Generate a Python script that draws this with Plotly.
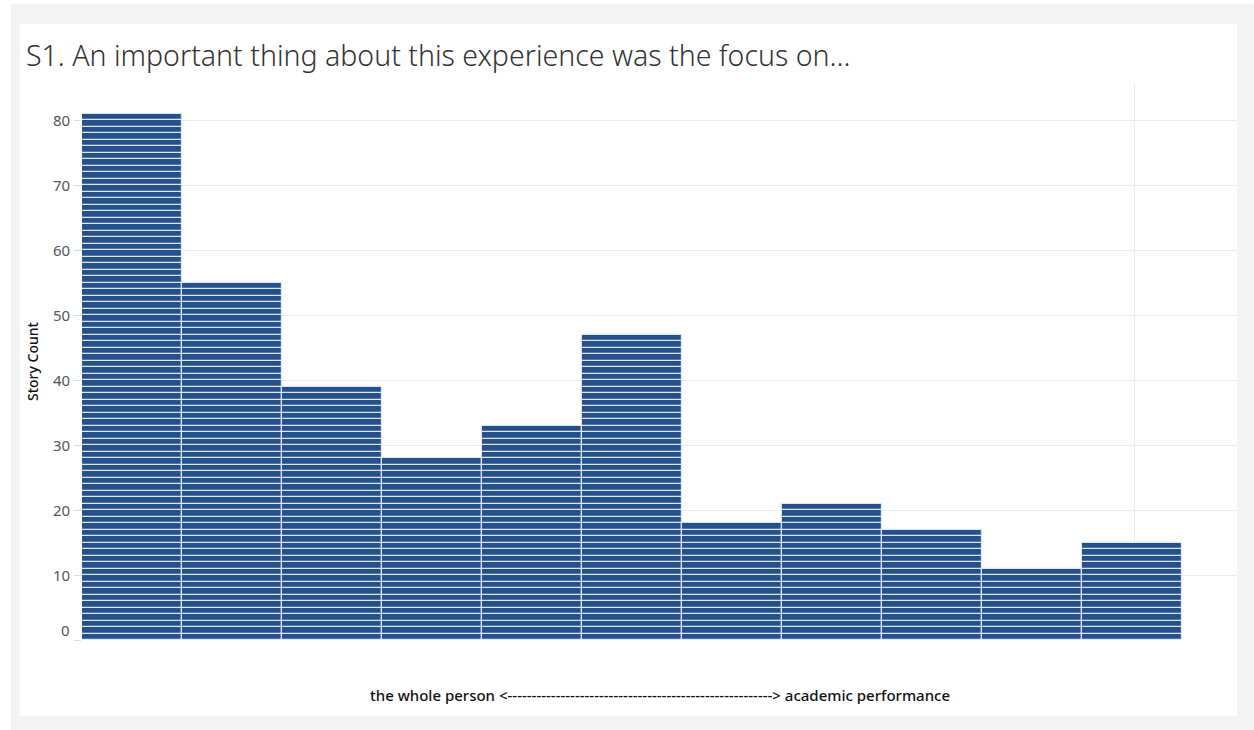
import plotly.graph_objects as go

# ---- data ----
bins = list(range(11))
story_counts = [81, 55, 39, 28, 33, 47, 18, 21, 17, 11, 15]
y_ticks = [0, 10, 20, 30, 40, 50, 60, 70, 80]
title_text = "S1. An important thing about this experience was the focus on..."
x_title = "the whole person <" + "-" * 55 + "> academic performance"
y_title = "Story Count"

# one rectangle per story, stacked in each bin
xs, bases, ones = [], [], []
for b, c in zip(bins, story_counts):
    for k in range(c):
        xs.append(b)
        bases.append(k)
        ones.append(1)

BLUE = "#24508c"
fig = go.Figure()
fig.add_trace(go.Bar(
    x=xs, y=ones, base=bases, width=1.0,
    marker=dict(color=BLUE, line=dict(color="#dfe5ee", width=1.2)),
    hoverinfo="skip", showlegend=False,
))
fig.update_layout(bargap=0, barmode="overlay")

W, H = 1254, 730
L, R, T, B = 82, 16, 83, 90
pw, ph = W - L - R, H - T - B

def px_x(px):
    return (px - L) / pw

def px_y(py):
    return (H - B - py) / ph

shapes = [
    dict(type="rect", xref="paper", yref="paper", x0=px_x(11), x1=px_x(1254), y0=px_y(730), y1=px_y(4),
         fillcolor="#f4f4f4", line=dict(width=0), layer="below"),
    dict(type="rect", xref="paper", yref="paper", x0=px_x(20), x1=px_x(1237), y0=px_y(716), y1=px_y(24),
         fillcolor="white", line=dict(width=0), layer="below"),
]

annotations = [
    dict(text=title_text, xref="paper", yref="paper", x=px_x(24), y=px_y(55), xanchor="left",
         yanchor="middle", showarrow=False,
         font=dict(family="Noto Sans", size=28.5, color="#333333", weight=300)),
    dict(text=x_title, xref="paper", yref="paper", x=0.5, y=px_y(695), xanchor="center",
         yanchor="middle", showarrow=False,
         font=dict(family="Noto Sans", size=15, color="#111111", weight=500)),
    dict(text=y_title, xref="paper", yref="paper", x=px_x(32), y=px_y(361), xanchor="center",
         yanchor="middle", textangle=-90, showarrow=False,
         font=dict(family="Noto Sans", size=14, color="#111111", weight=500)),
]
for v in y_ticks:
    annotations.append(dict(text=str(v), xref="paper", yref="y", x=px_x(72), y=v, xanchor="right",
                            yanchor="middle", yshift=10 if v == 0 else 0, showarrow=False,
                            font=dict(family="Noto Sans", size=15, color="#555555")))

fig.update_layout(
    width=W, height=H,
    margin=dict(l=L, r=R, t=T, b=B, pad=0),
    paper_bgcolor="white", plot_bgcolor="rgba(0,0,0,0)",
    shapes=shapes, annotations=annotations,
    xaxis=dict(range=[-0.5, -0.5 + pw / 100.0], tickvals=[-0.5, 10.02], showticklabels=False,
               showgrid=True, gridcolor="#ececec", gridwidth=1, zeroline=False, ticks="",
               showline=False, fixedrange=True),
    yaxis=dict(range=[0, (H - B - T) / 6.5], tickvals=y_ticks, showticklabels=False,
               showgrid=True, gridcolor="#ececec", gridwidth=1, zeroline=False,
               ticks="outside", ticklen=7, tickcolor="#dddddd", showline=False, fixedrange=True),
)

fig.write_html("out.html", post_script="document.body.style.margin='0';",
               config={"displayModeBar": False})
